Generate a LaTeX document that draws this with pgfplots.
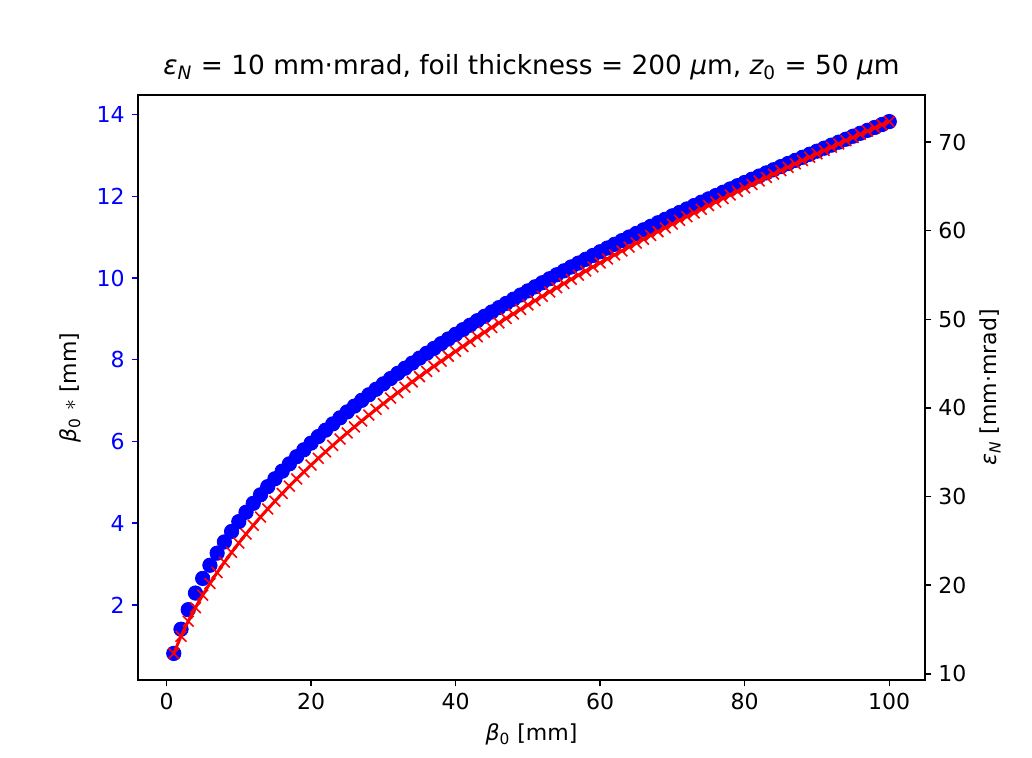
\documentclass[border=0pt]{standalone}
\usepackage{fontspec}
\setmainfont{DejaVu Sans}
\usepackage{pgfplots}
\usepackage{pgfplotstable}
\pgfplotsset{compat=1.18}
\pgfplotstableread{
x beta eps
1 0.813 12.300
2 1.405 14.234
3 1.883 15.934
4 2.290 17.470
5 2.648 18.881
6 2.971 20.194
7 3.267 21.427
8 3.541 22.592
9 3.797 23.700
10 4.039 24.759
11 4.268 25.774
12 4.486 26.751
13 4.694 27.693
14 4.894 28.604
15 5.087 29.487
16 5.273 30.345
17 5.452 31.179
18 5.627 31.991
19 5.796 32.783
20 5.960 33.556
21 6.120 34.312
22 6.276 35.052
23 6.429 35.776
24 6.578 36.486
25 6.724 37.182
26 6.866 37.866
27 7.006 38.537
28 7.143 39.197
29 7.278 39.846
30 7.410 40.485
31 7.540 41.114
32 7.668 41.732
33 7.793 42.343
34 7.917 42.944
35 8.039 43.538
36 8.159 44.123
37 8.277 44.700
38 8.394 45.270
39 8.509 45.834
40 8.623 46.390
41 8.735 46.939
42 8.845 47.483
43 8.955 48.020
44 9.063 48.551
45 9.169 49.077
46 9.275 49.596
47 9.379 50.111
48 9.482 50.620
49 9.585 51.124
50 9.685 51.624
51 9.785 52.118
52 9.884 52.608
53 9.982 53.094
54 10.080 53.574
55 10.176 54.051
56 10.271 54.523
57 10.365 54.992
58 10.459 55.456
59 10.551 55.917
60 10.643 56.374
61 10.734 56.827
62 10.825 57.277
63 10.914 57.723
64 11.003 58.165
65 11.091 58.605
66 11.179 59.041
67 11.265 59.474
68 11.352 59.903
69 11.437 60.330
70 11.522 60.754
71 11.606 61.175
72 11.690 61.592
73 11.773 62.007
74 11.855 62.420
75 11.937 62.829
76 12.018 63.236
77 12.099 63.640
78 12.180 64.042
79 12.259 64.442
80 12.338 64.838
81 12.417 65.233
82 12.495 65.625
83 12.573 66.014
84 12.650 66.402
85 12.727 66.787
86 12.803 67.170
87 12.879 67.551
88 12.955 67.929
89 13.030 68.306
90 13.104 68.680
91 13.178 69.053
92 13.252 69.423
93 13.325 69.792
94 13.398 70.158
95 13.471 70.523
96 13.543 70.886
97 13.615 71.247
98 13.686 71.606
99 13.757 71.963
100 13.828 72.319
}\datatable
\begin{document}
\begin{tikzpicture}[font=\fontsize{11}{13}\selectfont]
\pgfplotsset{
  every axis/.append style={
    at={(69pt,38.5pt)}, anchor=south west,
    scale only axis, width=393.5pt, height=292.5pt,
    xmin=-3.95, xmax=104.95,
    tick align=outside, major tick length=3.2pt,
    /pgf/number format/assume math mode=true,
    tick label style={font=\fontsize{11}{13}\selectfont},
    label style={font=\fontsize{11}{13}\selectfont},
    axis line style={line width=0.7pt},
    every tick/.style={line width=0.7pt},
  }
}
\begin{axis}[
  ymin=0.162, ymax=14.479,
  xtick={0,20,40,60,80,100},
  ytick={2,4,6,8,10,12,14},
  xtick pos=bottom, ytick pos=left,
  yticklabel style={text=blue},
  y tick style={blue},
  xlabel={{\itshape β}\textsubscript{0} [mm]},
  ylabel={{\itshape β}\textsubscript{0} $\ast$ [mm]},
  ylabel style={yshift=1pt},
  title={{\itshape ε}\textsubscript{\itshape N} = 10 mm·mrad, foil thickness = 200 {\itshape μ}m, {\itshape z}\textsubscript{0} = 50 {\itshape μ}m},
  title style={font=\fontsize{13.2}{15}\selectfont, yshift=-2pt},
]
\addplot[only marks, mark=*, color=blue, mark size=3.6pt] table[x=x, y=beta] {\datatable};
\end{axis}
\begin{axis}[
  ymin=9.30, ymax=75.32,
  axis x line=none,
  axis y line*=right,
  ytick={10,20,30,40,50,60,70},
  ylabel={{\itshape ε}\textsubscript{\itshape N} [mm·mrad]},
]
\addplot[color=red, line width=1.5pt, mark=x, mark size=3.8pt, mark options={line width=0.8pt}] table[x=x, y=eps] {\datatable};
\end{axis}
\pgfresetboundingbox
\path (0,0) rectangle (516pt,378.5pt);
\end{tikzpicture}
\end{document}
